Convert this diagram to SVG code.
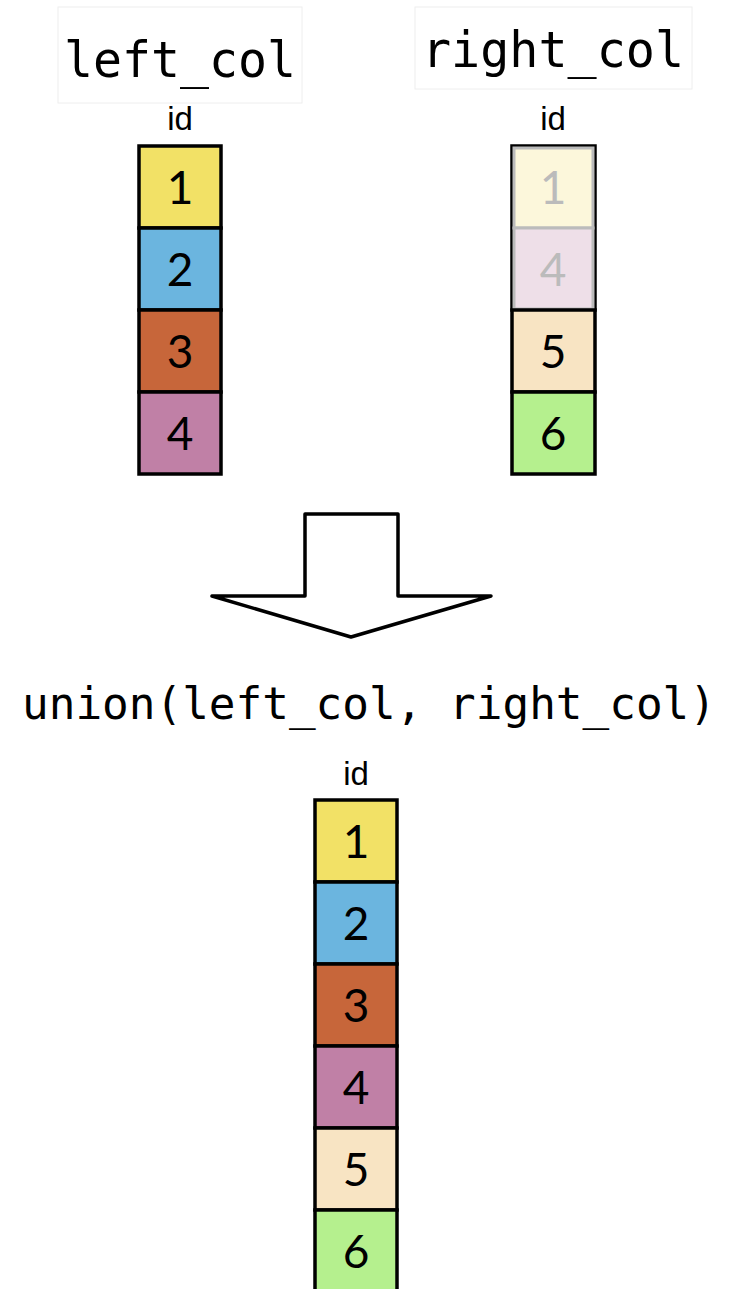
<svg xmlns="http://www.w3.org/2000/svg" width="734" height="1289" viewBox="0 0 734 1289">
<style>
.title{font-family:"DejaVu Sans Mono","Liberation Mono",monospace;font-size:50px;fill:#000}
.hdr{font-family:"Liberation Sans",Arial,sans-serif;font-size:33px;fill:#000;text-anchor:middle}
.num{font-family:"Lato","Noto Sans",sans-serif;font-size:46px;fill:#000;text-anchor:middle}
.cell{stroke:#000;stroke-width:3.5}
.fade{stroke:#bbbbbb;stroke-width:3}
.numf{font-family:"Lato","Noto Sans",sans-serif;font-size:46px;fill:#bbbbbb;text-anchor:middle}
.lbox{fill:#fff;stroke:#eeeeee;stroke-width:1}
</style>
<rect width="734" height="1289" fill="#fff"/>
<g id="left_title">
<rect class="lbox" x="58" y="7" width="244" height="96"/>
<text class="title" x="180" y="77" text-anchor="middle" textLength="232" lengthAdjust="spacingAndGlyphs">left_col</text>
</g>
<g id="right_title">
<rect class="lbox" x="415" y="7" width="277" height="82"/>
<text class="title" x="553" y="67" text-anchor="middle" textLength="262" lengthAdjust="spacingAndGlyphs">right_col</text>
</g>
<g id="left_table">
<text class="hdr" x="180" y="130">id</text>
<rect class="cell" x="139" y="146" width="82" height="82" fill="#F2E166"/>
<text class="num" x="180" y="204">1</text>
<rect class="cell" x="139" y="228" width="82" height="82" fill="#6BB5DF"/>
<text class="num" x="180" y="286">2</text>
<rect class="cell" x="139" y="310" width="82" height="82" fill="#C7663A"/>
<text class="num" x="180" y="368">3</text>
<rect class="cell" x="139" y="392" width="82" height="82" fill="#C080A6"/>
<text class="num" x="180" y="450">4</text>
</g>
<g id="right_table">
<text class="hdr" x="553" y="130">id</text>
<rect class="cell" x="512" y="146" width="83" height="164" fill="none"/>
<rect class="fade" x="514" y="148" width="79" height="80" fill="#FCF7DB"/>
<text class="numf" x="553" y="204">1</text>
<rect class="fade" x="514" y="228" width="79" height="81" fill="#EEDFE8"/>
<text class="numf" x="553" y="286">4</text>
<rect class="cell" x="512" y="310" width="83" height="82" fill="#F8E4C3"/>
<text class="num" x="553" y="368">5</text>
<rect class="cell" x="512" y="392" width="83" height="82" fill="#B5F08E"/>
<text class="num" x="553" y="450">6</text>
</g>
<g id="connectors">
<path d="M305,514 L398,514 L398,596 L491,596 L351,637 L212,596 L305,596 Z" fill="#fff" stroke="#000" stroke-width="3.5" stroke-linejoin="round"/>
</g>
<g id="union_title">
<text class="title" x="369" y="719" text-anchor="middle" textLength="694" lengthAdjust="spacingAndGlyphs" style="font-size:44px">union(left_col, right_col)</text>
</g>
<g id="result_table">
<text class="hdr" x="356" y="785">id</text>
<rect class="cell" x="315" y="800" width="82" height="82" fill="#F2E166"/>
<text class="num" x="356" y="858">1</text>
<rect class="cell" x="315" y="882" width="82" height="82" fill="#6BB5DF"/>
<text class="num" x="356" y="940">2</text>
<rect class="cell" x="315" y="964" width="82" height="82" fill="#C7663A"/>
<text class="num" x="356" y="1022">3</text>
<rect class="cell" x="315" y="1046" width="82" height="82" fill="#C080A6"/>
<text class="num" x="356" y="1104">4</text>
<rect class="cell" x="315" y="1128" width="82" height="82" fill="#F8E4C3"/>
<text class="num" x="356" y="1186">5</text>
<rect class="cell" x="315" y="1210" width="82" height="82" fill="#B5F08E"/>
<text class="num" x="356" y="1268">6</text>
</g>
</svg>
